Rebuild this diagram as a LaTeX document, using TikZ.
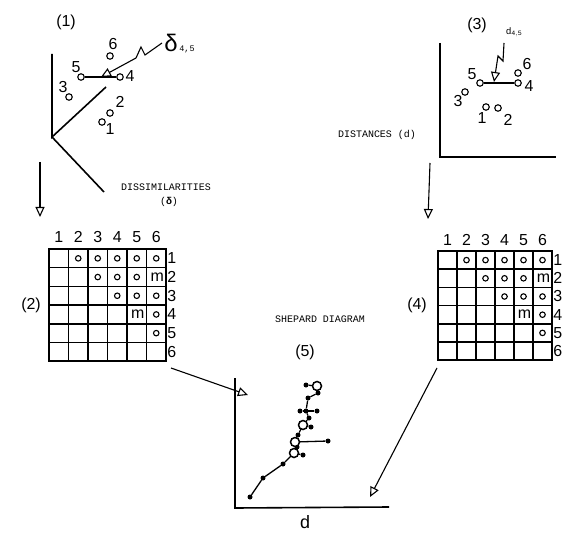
\documentclass[tikz,border=0pt]{standalone}
\usepackage{fontspec}
\setmainfont{Liberation Sans}
\setmonofont{Liberation Mono}
\usetikzlibrary{arrows.meta}

% 6x6 half-matrix of comparisons: #1 name, #2,#3 top-left corner, #4 cell width, #5 cell height
\newcommand{\dgrid}[5]{%
  \begin{scope}[shift={(#2,#3)}, x=#4bp, y=-#5bp]
    \draw[gridline] (0,0) rectangle (6,6);
    \foreach \i in {1,...,5} {
      \draw[gridline] (\i,0) -- (\i,6);
      \draw[gridline] (0,\i) -- (6,\i);
    }
    \foreach \i in {1,...,6} {
      \node[num] (#1c\i) at (\i-0.5,-0.62) {\i};
      \node[num, anchor=west] (#1r\i) at (6.06,\i-0.5) {\i};
    }
    \foreach \c/\r in {2/1,3/1,4/1,5/1,6/1,3/2,4/2,5/2,4/3,5/3,6/3,6/4,6/5}
      \node[cellpt] (#1o\c\r) at (\c-0.5,\r-0.5) {};
    \node[num] (#1m62) at (5.55,1.5) {m};
    \node[num] (#1m54) at (4.55,3.5) {m};
  \end{scope}}

\begin{document}
\begin{tikzpicture}[x=1bp, y=-1bp,
  pt/.style={circle, draw, line width=1.1bp, minimum size=6.5bp, inner sep=0pt},
  cellpt/.style={circle, draw, line width=1.1bp, minimum size=5.5bp, inner sep=0pt},
  dot/.style={circle, fill, minimum size=5bp, inner sep=0pt},
  ring/.style={circle, draw, fill=white, line width=1.5bp, minimum size=9bp, inner sep=0pt},
  num/.style={font=\fontsize{16}{16}\selectfont, inner sep=0pt},
  tt/.style={font=\ttfamily\fontsize{10}{10}\selectfont, inner sep=0pt},
  axis/.style={line width=1.6bp},
  gridline/.style={line width=1.5bp},
  link/.style={line width=1.3bp},
  openarrow/.style={line width=1.1bp, -{Triangle[open, length=10bp, width=9bp, line width=1.1bp]}}]

\useasboundingbox (0,0) rectangle (568,535);

% ---------- (1) configuration from dissimilarities ----------
\node[num] (t1) at (66,22) {(1)};
\coordinate (o1) at (52,137);
\draw[axis] (52,54) -- (o1) -- (106,87);
\draw[axis] (o1) -- (104,192);

\node[pt] (a1) at (102,122) {};
\node[pt] (a2) at (110,113) {};
\node[pt] (a3) at (69,97) {};
\node[pt] (a4) at (120,77) {};
\node[pt] (a5) at (81,77) {};
\node[pt] (a6) at (110,56) {};
\node[num] (la1) at (110,129) {1};
\node[num] (la2) at (120,102) {2};
\node[num] (la3) at (63,87) {3};
\node[num] (la4) at (130,76) {4};
\node[num] (la5) at (76,67) {5};
\node[num] (la6) at (113,44) {6};
\draw[link] (a5) -- (a4);

\node[font=\fontsize{24}{24}\selectfont, inner sep=0pt] (delta) at (171,43) {δ};
\node[font=\ttfamily\fontsize{8.5}{8.5}\selectfont, inner sep=0pt] (dsub) at (187,49) {4,5};
\coordinate (dtip) at (101,77);
\draw[openarrow] (162,43) -- (145,55) -- (141,47) -- (136,58) -- (dtip);

\node[tt] (diss) at (166,187) {DISSIMILARITIES};
\node[tt] (dsym) at (169,202) {(\textbf{δ})};

\coordinate (s12) at (40,162);
\coordinate (e12) at (40,217);
\draw[openarrow] (s12) -- (e12);

% ---------- (3) configuration from distances ----------
\node[num] (t3) at (477,25) {(3)};
\node[font=\ttfamily\fontsize{9.5}{9.5}\selectfont, inner sep=0pt] (dlab) at (514,32) {d$_{\mathtt{4,5}}$};
\draw[axis] (440,43) -- (440,157) -- (556,157);

\node[pt] (b1) at (486,107) {};
\node[pt] (b2) at (498,108) {};
\node[pt] (b3) at (465,92) {};
\node[pt] (b4) at (518,83) {};
\node[pt] (b5) at (480,83) {};
\node[pt] (b6) at (518,73) {};
\node[num] (lb1) at (482,118) {1};
\node[num] (lb2) at (508,120) {2};
\node[num] (lb3) at (458,101) {3};
\node[num] (lb4) at (529,86) {4};
\node[num] (lb5) at (472,74) {5};
\node[num] (lb6) at (527,64) {6};
\draw[link] (b5) -- (b4);
\coordinate (dtip3) at (494,82);
\draw[openarrow] (504,43) -- (503,61) -- (498,56) -- (dtip3);

\node[tt] (dist) at (377,135) {DISTANCES (d)};

\coordinate (s34) at (430,163);
\coordinate (e34) at (428,219);
\draw[openarrow] (s34) -- (e34);

% ---------- (2) and (4) matrices ----------
\node[num] (t2) at (31,305) {(2)};
\dgrid{g}{49}{249}{19.5}{18.7}
\node[num] (t4) at (417,305) {(4)};
\dgrid{h}{438}{251}{19}{18.2}

\coordinate (s25) at (171,368);
\coordinate (e25) at (248,395);
\draw[openarrow] (s25) -- (e25);
\coordinate (s45) at (437,368);
\coordinate (e45) at (370,497);
\draw[openarrow] (s45) -- (e45);

% ---------- (5) Shepard diagram ----------
\node[tt] (shep) at (320,319) {SHEPARD DIAGRAM};
\node[num] (t5) at (305,352) {(5)};
\draw[axis] (235,378) -- (235,508) -- (389,507);
\node[font=\fontsize{18}{18}\selectfont, inner sep=0pt] (dax) at (305,522) {d};

\node[dot] (q1) at (250,497) {};
\node[dot] (q2) at (263,478) {};
\node[dot] (q3) at (283,464) {};
\node[dot] (q4) at (303,455) {};
\node[dot] (q5) at (297,447) {};
\node[dot] (q6) at (328,441) {};
\node[dot] (q7) at (298,435) {};
\node[dot] (q8) at (311,427) {};
\node[dot] (q9) at (309,418) {};
\node[dot] (q10) at (300,411) {};
\node[dot] (q11) at (306,411) {};
\node[dot] (q12) at (317,411) {};
\node[dot] (q13) at (308,398) {};
\node[dot] (q14) at (318,393) {};
\node[dot] (q15) at (306,385) {};

\draw[link] (q1) -- (q2) -- (q3) -- (294,453) -- (q5) -- (295,442) -- (q7)
  -- (303,425) -- (q9) -- (q11) -- (q13) -- (q14) -- (317,386);
\draw[link] (294,453) -- (q4);
\draw[link] (295,442) -- (q6);
\draw[link] (303,425) -- (q8);
\draw[link] (q10) -- (q12);
\draw[link] (317,386) -- (q15);

\node[ring] (r1) at (294,453) {};
\node[ring] (r2) at (295,442) {};
\node[ring] (r3) at (303,425) {};
\node[ring] (r4) at (317,386) {};

\end{tikzpicture}
\end{document}
